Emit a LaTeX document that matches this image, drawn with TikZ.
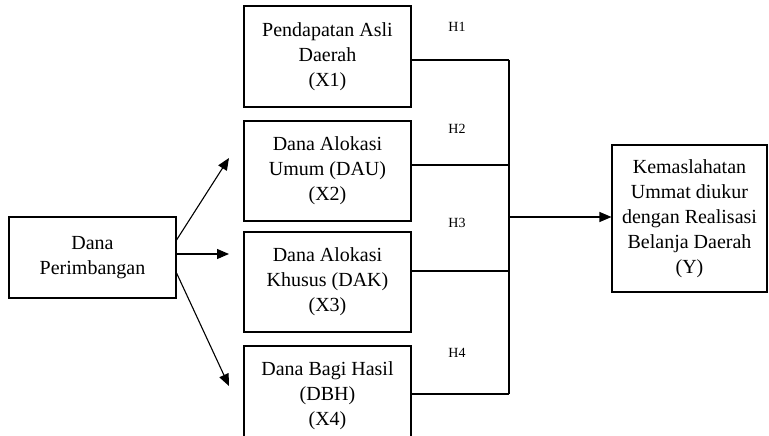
\documentclass[tikz,border=0pt]{standalone}
\usepackage{fontspec}
\setmainfont{Liberation Serif}
\usetikzlibrary{arrows.meta}

\begin{document}
\begin{tikzpicture}[x=1pt,y=-1pt,line width=1.1pt,
	kotak/.style={draw,rectangle,align=center,inner sep=0pt,minimum width=167pt,font=\fontsize{20}{25}\selectfont},
	labelh/.style={font=\fontsize{14}{16}\selectfont},
	panah/.style={-{Triangle[length=12pt,width=10pt]}}]
	% 画布范围
	\path[use as bounding box,clip] (0,0) rectangle (769,436);
	% 方框
	\node[kotak,minimum height=81pt] (dp) at (92.5,257.5) {Dana\\Perimbangan};
	\node[kotak,minimum height=101pt] (x1) at (327.5,56.5) {Pendapatan Asli\\Daerah\\(X1)};
	\node[kotak,minimum height=100pt] (x2) at (327.5,171) {Dana Alokasi\\Umum (DAU)\\(X2)};
	\node[kotak,minimum height=100pt] (x3) at (327.5,282) {Dana Alokasi\\Khusus (DAK)\\(X3)};
	\node[kotak,minimum height=100pt] (x4) at (327.5,396) {Dana Bagi Hasil\\(DBH)\\(X4)};
	\node[kotak,minimum width=155pt,minimum height=147pt] (y) at (689.5,218.5) {Kemaslahatan\\Ummat diukur\\dengan Realisasi\\Belanja Daerah\\(Y)};
	% 箭头
	\coordinate (t1) at (229,158);
	\coordinate (t2) at (229,254);
	\coordinate (t3) at (229,386);
	\draw[panah] ([yshift=17.5pt]dp.east) -- (t1);
	\draw[panah] ([yshift=3.5pt]dp.east) -- (t2);
	\draw[panah] ([yshift=-15.5pt]dp.east) -- (t3);
	% 连接线
	\coordinate (j1) at (509,60);
	\coordinate (j2) at (509,165);
	\coordinate (j3) at (509,271);
	\coordinate (j4) at (509,394);
	\coordinate (jy) at (509,217);
	\draw (x1.east |- j1) -- (j1);
	\draw (x2.east |- j2) -- (j2);
	\draw (x3.east |- j3) -- (j3);
	\draw (x4.east |- j4) -- (j4);
	\draw (j1) -- (j4);
	\draw[panah] (jy) -- (jy -| y.west);
	% 写文字
	\node[labelh] (h1) at (457,26.5) {H1};
	\node[labelh] (h2) at (457,128.5) {H2};
	\node[labelh] (h3) at (457,223) {H3};
	\node[labelh] (h4) at (457,352.5) {H4};
\end{tikzpicture}
\end{document}
